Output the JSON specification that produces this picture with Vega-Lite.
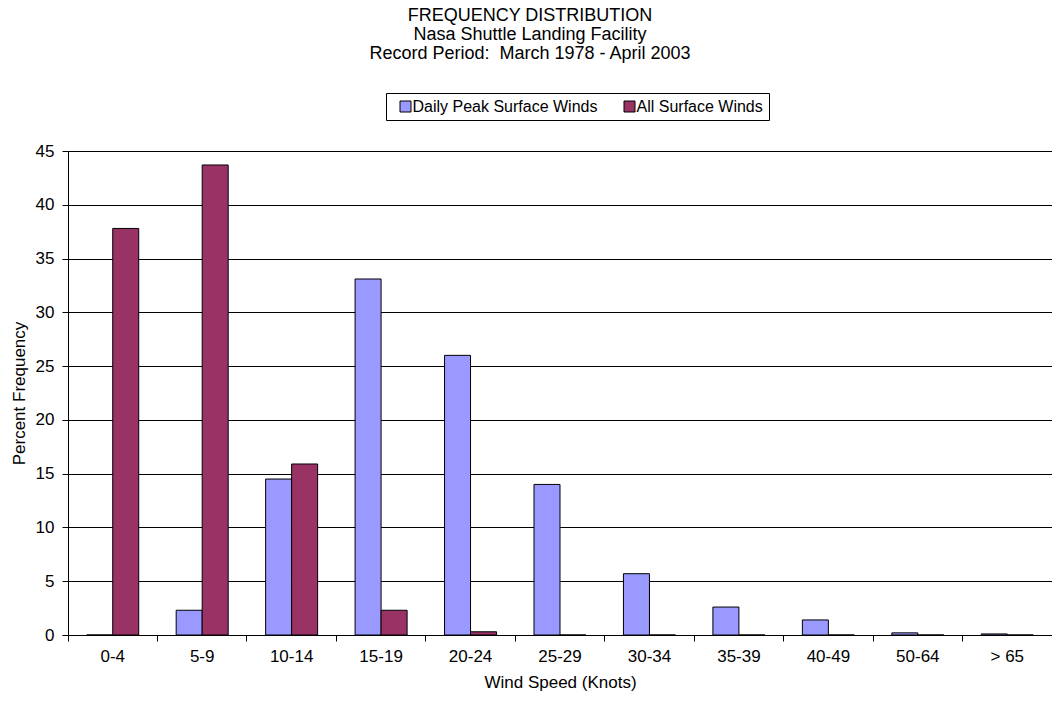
{
  "$schema": "https://vega.github.io/schema/vega-lite/v6.json",
  "width": 984,
  "height": 484,
  "autosize": {"type": "none"},
  "padding": {"left": 68, "top": 151, "right": 0, "bottom": 69},
  "background": "white",
  "config": {
    "font": "Liberation Sans",
    "view": {"stroke": null},
    "axis": {"labelColor": "black", "titleColor": "black", "labelFont": "Liberation Sans", "titleFont": "Liberation Sans", "titleFontWeight": "normal"},
    "legend": {"labelFont": "Liberation Sans", "labelColor": "black"}
  },
  "title": {
    "text": ["FREQUENCY DISTRIBUTION", "Nasa Shuttle Landing Facility", "Record Period:\u00a0 March 1978 - April 2003"],
    "fontSize": 18,
    "fontWeight": "normal",
    "color": "black",
    "lineHeight": 19,
    "anchor": "middle",
    "dx": -30,
    "offset": 30
  },
  "data": {
    "values": [
      {"speed": "0-4", "series": "Daily Peak Surface Winds", "pct": 0},
      {"speed": "0-4", "series": "All Surface Winds", "pct": 37.8},
      {"speed": "5-9", "series": "Daily Peak Surface Winds", "pct": 2.3},
      {"speed": "5-9", "series": "All Surface Winds", "pct": 43.7},
      {"speed": "10-14", "series": "Daily Peak Surface Winds", "pct": 14.5},
      {"speed": "10-14", "series": "All Surface Winds", "pct": 15.9},
      {"speed": "15-19", "series": "Daily Peak Surface Winds", "pct": 33.1},
      {"speed": "15-19", "series": "All Surface Winds", "pct": 2.3},
      {"speed": "20-24", "series": "Daily Peak Surface Winds", "pct": 26.0},
      {"speed": "20-24", "series": "All Surface Winds", "pct": 0.3},
      {"speed": "25-29", "series": "Daily Peak Surface Winds", "pct": 14.0},
      {"speed": "25-29", "series": "All Surface Winds", "pct": 0},
      {"speed": "30-34", "series": "Daily Peak Surface Winds", "pct": 5.7},
      {"speed": "30-34", "series": "All Surface Winds", "pct": 0},
      {"speed": "35-39", "series": "Daily Peak Surface Winds", "pct": 2.6},
      {"speed": "35-39", "series": "All Surface Winds", "pct": 0},
      {"speed": "40-49", "series": "Daily Peak Surface Winds", "pct": 1.4},
      {"speed": "40-49", "series": "All Surface Winds", "pct": 0},
      {"speed": "50-64", "series": "Daily Peak Surface Winds", "pct": 0.2},
      {"speed": "50-64", "series": "All Surface Winds", "pct": 0},
      {"speed": "> 65", "series": "Daily Peak Surface Winds", "pct": 0.1},
      {"speed": "> 65", "series": "All Surface Winds", "pct": 0}
    ]
  },
  "layer": [
    {
      "mark": {"type": "bar", "stroke": "black", "strokeWidth": 1},
      "encoding": {
        "x": {
          "field": "speed",
          "type": "nominal",
          "sort": ["0-4", "5-9", "10-14", "15-19", "20-24", "25-29", "30-34", "35-39", "40-49", "50-64", "> 65"],
          "scale": {"paddingInner": 0, "paddingOuter": 0},
          "axis": {
            "orient": "bottom",
            "title": "Wind Speed (Knots)",
            "titleFontSize": 17,
            "titlePadding": 10,
            "labelFontSize": 17,
            "labelAngle": 0,
            "labelPadding": 13,
            "ticks": false,
            "domain": true,
            "domainColor": "black",
            "domainWidth": 1,
            "grid": false
          }
        },
        "xOffset": {
          "field": "series",
          "type": "nominal",
          "sort": ["Daily Peak Surface Winds", "All Surface Winds"],
          "scale": {"paddingInner": 0, "paddingOuter": 0.72}
        },
        "y": {
          "field": "pct",
          "type": "quantitative",
          "scale": {"domain": [0, 45], "nice": false},
          "axis": {
            "title": "Percent Frequency",
            "titleFontSize": 17,
            "titlePadding": 7,
            "labelFontSize": 17,
            "labelPadding": 8,
            "values": [0, 5, 10, 15, 20, 25, 30, 35, 40, 45],
            "labelOverlap": false,
            "tickSize": 6,
            "tickColor": "black",
            "domainColor": "black",
            "grid": true,
            "gridColor": "black",
            "gridWidth": 1
          }
        },
        "color": {
          "field": "series",
          "type": "nominal",
          "scale": {"domain": ["Daily Peak Surface Winds", "All Surface Winds"], "range": ["#9999FF", "#993366"]},
          "legend": {
            "title": null,
            "orient": "none",
            "direction": "horizontal",
            "legendX": 318,
            "legendY": -58,
            "labelFontSize": 16,
            "labelLimit": 400,
            "symbolType": "square",
            "symbolSize": 121,
            "symbolStrokeColor": "black",
            "symbolStrokeWidth": 1,
            "symbolOpacity": 1,
            "symbolOffset": 6,
            "labelOffset": -1,
            "columnPadding": 18,
            "padding": 5.5,
            "strokeColor": "black",
            "fillColor": "white"
          }
        }
      }
    },
    {
      "mark": {"type": "bar", "opacity": 0},
      "encoding": {
        "x": {
          "field": "speed",
          "type": "nominal",
          "sort": ["0-4", "5-9", "10-14", "15-19", "20-24", "25-29", "30-34", "35-39", "40-49", "50-64", "> 65"],
          "axis": {
            "orient": "bottom",
            "title": null,
            "labels": false,
            "ticks": true,
            "tickSize": 6,
            "tickColor": "black",
            "bandPosition": 0,
            "domain": false,
            "grid": false
          }
        }
      }
    }
  ],
  "resolve": {"axis": {"x": "independent"}}
}
